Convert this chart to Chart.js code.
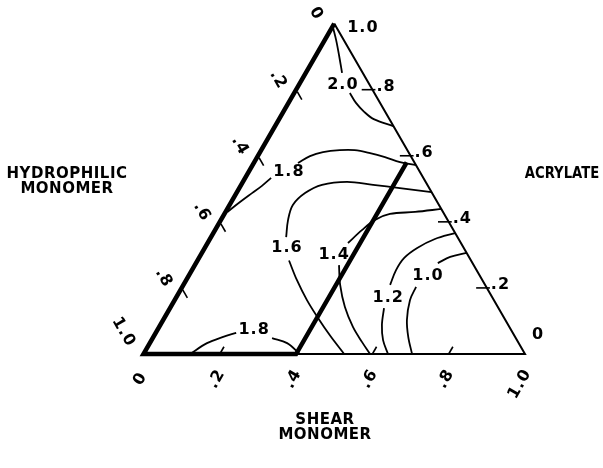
<!DOCTYPE html>
<html>
<head>
<meta charset="utf-8">
<script src="https://cdn.jsdelivr.net/npm/chart.js@4.4.0/dist/chart.umd.min.js"></script>
<style>
    body { margin: 0; background: #fff; }
    canvas { display: block; }
</style>
</head>
<body>
<canvas id="ternaryChart" width="603" height="468"></canvas>
<script>
// compositions are [shear, acrylate]; hydrophilic = 1 - shear - acrylate
// null splits a contour where its level label sits
var level20 = [[0.005, 0.985], [0.030, 0.950], [0.060, 0.905], [0.095, 0.851], null,
    [0.146, 0.790], [0.177, 0.760], [0.212, 0.733], [0.248, 0.711], [0.310, 0.690]];
var level18Upper = [[0.005, 0.430], [0.023, 0.460], [0.041, 0.487], [0.056, 0.509], [0.068, 0.533], null,
    [0.116, 0.578], [0.137, 0.599], [0.165, 0.611], [0.206, 0.617], [0.245, 0.617],
    [0.290, 0.608], [0.335, 0.596], [0.382, 0.581], [0.428, 0.572]];
var level16 = [[0.526, 0], [0.462, 0.055], [0.403, 0.109], [0.347, 0.163], [0.290, 0.224], [0.240, 0.283], null,
    [0.197, 0.354], [0.176, 0.406], [0.166, 0.451], [0.180, 0.487], [0.212, 0.512],
    [0.273, 0.521], [0.346, 0.512], [0.421, 0.502], [0.510, 0.490]];
var level14 = [[0.594, 0], [0.555, 0.036], [0.508, 0.082], [0.457, 0.142], [0.411, 0.209], [0.378, 0.269], null,
    [0.368, 0.336], [0.385, 0.375], [0.404, 0.406], [0.434, 0.424], [0.497, 0.430], [0.561, 0.439]];
var level12 = [[0.641, 0], [0.607, 0.042], [0.581, 0.088], [0.561, 0.139], null,
    [0.542, 0.209], [0.535, 0.254], [0.538, 0.291], [0.557, 0.321], [0.590, 0.348], [0.634, 0.366]];
var level10 = [[0.704, 0], [0.668, 0.052], [0.639, 0.103], [0.617, 0.163], [0.613, 0.203], null,
    [0.634, 0.275], [0.657, 0.294], [0.694, 0.306]];
var level18Lower = [[0.122, 0], [0.150, 0.033], [0.183, 0.052], [0.211, 0.064], null,
    [0.313, 0.048], [0.360, 0.033], [0.410, 0]];

var levelText = ["2.0", "1.8", "1.6", "1.4", "1.2", "1.0", "1.8"];
var levelAnchor = [[0.113, 0.814], [0.103, 0.551], [0.213, 0.321], [0.347, 0.300], [0.554, 0.170], [0.625, 0.236], [0.251, 0.073]];

// triangle outline: right edge and the open part of the base are thin,
// the hydrophilic edge, base up to .4 shear and the .4 shear line are heavy
var frameThin = [[0, 1], [1, 0], [0.4, 0]];
var frameThick = [[0, 1], [0, 0], [0.4, 0], [0.4, 0.58]];

var tickValues = [0, 0.2, 0.4, 0.6, 0.8, 1.0];
var tickLabels = ["0", ".2", ".4", ".6", ".8", "1.0"];

var titleLeft = ["HYDROPHILIC", "MONOMER"];
var titleRight = ["ACRYLATE"];
var titleBottom = ["SHEAR", "MONOMER"];

var H = Math.sqrt(3) / 2;

function toXY(p) {
    if (p === null) {
        return { x: null, y: null };
    }
    return { x: p[0] + p[1] / 2, y: p[1] * H };
}

function lineSet(points, width, tension) {
    return {
        data: points.map(toXY),
        showLine: true,
        borderColor: "#000",
        borderWidth: width,
        borderJoinStyle: "miter",
        borderCapStyle: "butt",
        pointRadius: 0,
        tension: tension,
        spanGaps: false,
        fill: false,
        clip: false
    };
}

function tickSets() {
    var sets = [];
    for (var i = 1; i < tickValues.length - 1; i++) {
        var v = tickValues[i];
        // base (shear): stub up along constant shear
        sets.push(lineSet([[v, 0], [v, 0.022]], 1.6, 0));
        // left (hydrophilic): stub along constant hydrophilic
        sets.push(lineSet([[0.006, 1 - v - 0.006], [0.03, 1 - v - 0.03]], 1.6, 0));
        // right (acrylate): short dash across the edge
        sets.push(lineSet([[1 - v - 0.028, v], [1 - v + 0.008, v]], 1.6, 0));
    }
    return sets;
}

var datasets = [
    lineSet(level20, 1.8, 0.35),
    lineSet(level18Upper, 1.8, 0.35),
    lineSet(level16, 1.8, 0.35),
    lineSet(level14, 1.8, 0.35),
    lineSet(level12, 1.8, 0.35),
    lineSet(level10, 1.8, 0.35),
    lineSet(level18Lower, 1.8, 0.35),
    lineSet(frameThin, 2, 0),
    lineSet(frameThick, 4.5, 0)
].concat(tickSets());

function pix(chart, s, a) {
    return {
        x: chart.scales.x.getPixelForValue(s + a / 2),
        y: chart.scales.y.getPixelForValue(a * H)
    };
}

function rotText(ctx, text, x, y, deg) {
    ctx.save();
    ctx.translate(x, y);
    ctx.rotate(deg * Math.PI / 180);
    ctx.textAlign = "center";
    ctx.fillText(text, 0, 0);
    ctx.restore();
}

var labelPlugin = {
    id: "ternaryLabels",
    afterDatasetsDraw: function (chart) {
        var ctx = chart.ctx;
        ctx.save();
        ctx.fillStyle = "#000";
        ctx.textBaseline = "middle";
        ctx.font = "bold 16px 'DejaVu Sans'";
        ctx.letterSpacing = "1px";

        // contour levels
        ctx.textAlign = "center";
        for (var i = 0; i < levelText.length; i++) {
            var p = pix(chart, levelAnchor[i][0], levelAnchor[i][1]);
            ctx.fillText(levelText[i], p.x + 1, p.y);
        }

        for (var j = 0; j < tickValues.length; j++) {
            var v = tickValues[j];
            var last = j === tickValues.length - 1;

            // acrylate, right edge
            var r = pix(chart, 1 - v, v);
            var rx = r.x + 4, ry = r.y - 3;
            if (j === 0) { rx = r.x + 7; ry = r.y - 19; }
            if (last) { rx = r.x + 13; ry = r.y + 4; }
            ctx.textAlign = "left";
            ctx.fillText(tickLabels[j], rx, ry);

            // hydrophilic, left edge
            var l = pix(chart, 0, 1 - v);
            var lx = l.x - 18, ly = l.y - 10;
            if (last) { lx = l.x - 20; ly = l.y - 22; }
            rotText(ctx, tickLabels[j], lx, ly, 60);

            // shear, base
            var b = pix(chart, v, 0);
            var bx = b.x - 3, by = b.y + 25;
            if (last) { bx = b.x - 5; by = b.y + 30; }
            rotText(ctx, tickLabels[j], bx, by, -60);
        }

        // component names
        ctx.font = "bold 15px 'DejaVu Sans'";
        ctx.letterSpacing = "0.5px";
        ctx.textAlign = "center";
        ctx.fillText(titleLeft[0], 67, 174);
        ctx.fillText(titleLeft[1], 67, 189);
        ctx.fillText(titleBottom[0], 325, 420);
        ctx.fillText(titleBottom[1], 325, 435);

        // right title sits close to the canvas edge, so it is drawn a little narrower
        ctx.save();
        ctx.translate(562, 174);
        ctx.scale(0.88, 1);
        ctx.letterSpacing = "0px";
        ctx.fillText(titleRight[0], 0, 0);
        ctx.restore();
        ctx.restore();
    }
};

var ctx = document.getElementById("ternaryChart").getContext("2d");
new Chart(ctx, {
    type: "scatter",
    data: { datasets: datasets },
    options: {
        responsive: false,
        animation: false,
        events: [],
        layout: { padding: 0 },
        plugins: {
            legend: { display: false },
            tooltip: { enabled: false }
        },
        scales: {
            x: { type: "linear", display: false, min: -0.3761, max: 1.2045 },
            y: { type: "linear", display: false, min: -0.2988, max: 0.9279 }
        }
    },
    plugins: [labelPlugin]
});
</script>
</body>
</html>
